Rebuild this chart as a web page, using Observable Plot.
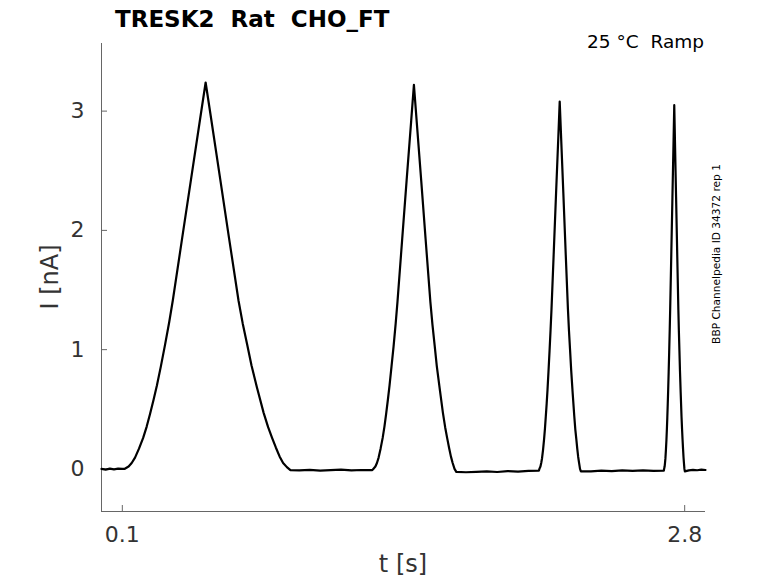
<!DOCTYPE html>
<html>
<head>
<meta charset="utf-8">
<script src="https://cdn.jsdelivr.net/npm/d3@7"></script>
<script src="https://cdn.jsdelivr.net/npm/@observablehq/plot@0.6"></script>
<style>
  html, body { margin: 0; padding: 0; background: #fff; }
  svg text { font-family: "DejaVu Sans", sans-serif; }
</style>
</head>
<body>
<div id="chart"></div>
<script>
// ---- data ----
const titleText = "TRESK2  Rat  CHO_FT";
const conditionText = "25 °C  Ramp";
const sourceText = "BBP Channelpedia ID 34372 rep 1";
const xLabel = "t [s]";
const yLabel = "I [nA]";
const xTicks = [0.1, 2.8];
const yTicks = [0, 1, 2, 3];
const xDomain = [0, 2.9];
const yDomain = [-0.357, 3.567];

// baseline before first ramp
const preTime    = [0, 0.02, 0.04, 0.06, 0.08, 0.1];
const preCurrent = [0.0, -0.006, 0.003, -0.004, 0.002, 0.0];

// ramp 1 (0.1 -> 0.5 -> 0.9 s)
const ramp1Time = [0.11, 0.13, 0.145, 0.161, 0.18, 0.2, 0.217, 0.233, 0.25, 0.266, 0.285, 0.305, 0.325, 0.3425, 0.386, 0.43, 0.474, 0.5,
                   0.527, 0.57, 0.612, 0.658, 0.678, 0.6986, 0.72, 0.7467, 0.7785, 0.8, 0.819, 0.837, 0.855, 0.872, 0.89, 0.907];
const ramp1Current = [0, 0.02, 0.05, 0.095, 0.17, 0.26, 0.355, 0.46, 0.58, 0.70, 0.86, 1.04, 1.23, 1.414, 1.92, 2.43, 2.94, 3.24,
                      2.93, 2.43, 1.94, 1.41, 1.22, 1.05, 0.87, 0.68, 0.47, 0.35, 0.26, 0.18, 0.105, 0.05, 0.015, -0.01];

const gap1Time    = [0.95, 1.0, 1.05, 1.1, 1.15, 1.2, 1.25, 1.3];
const gap1Current = [-0.012, -0.008, -0.014, -0.01, -0.006, -0.012, -0.009, -0.01];

// ramp 2 (1.3 -> 1.5 -> 1.7 s)
const ramp2Time = [1.305, 1.315, 1.3225, 1.3305, 1.34, 1.35, 1.3585, 1.3665, 1.375, 1.383, 1.3925, 1.4025, 1.4125, 1.42125, 1.443, 1.465, 1.487, 1.5,
                   1.5135, 1.535, 1.556, 1.579, 1.589, 1.5993, 1.61, 1.62335, 1.63925, 1.65, 1.6595, 1.6685, 1.6775, 1.686, 1.695, 1.7035];
const ramp2Current = [0, 0.02, 0.05, 0.095, 0.17, 0.26, 0.355, 0.46, 0.58, 0.70, 0.86, 1.03, 1.22, 1.405, 1.91, 2.42, 2.92, 3.22,
                      2.91, 2.42, 1.93, 1.40, 1.21, 1.04, 0.86, 0.68, 0.47, 0.35, 0.26, 0.18, 0.105, 0.05, 0.0, -0.025];

const gap2Time    = [1.75, 1.8, 1.85, 1.9, 1.95, 2.0, 2.05, 2.1];
const gap2Current = [-0.028, -0.024, -0.02, -0.026, -0.018, -0.022, -0.017, -0.015];

// ramp 3 (2.1 -> 2.2 -> 2.3 s)
const ramp3Time = [2.1025, 2.1075, 2.11125, 2.11525, 2.12, 2.125, 2.12925, 2.13325, 2.1375, 2.1415, 2.14625, 2.15125, 2.15625, 2.160625, 2.1715, 2.1825, 2.1935, 2.2,
                   2.20675, 2.2175, 2.228, 2.2395, 2.2445, 2.24965, 2.255, 2.26168, 2.26963, 2.275, 2.27975, 2.28425, 2.28875, 2.293, 2.2975, 2.30175];
const ramp3Current = [0, 0.02, 0.05, 0.09, 0.16, 0.25, 0.34, 0.44, 0.55, 0.665, 0.82, 0.99, 1.17, 1.34, 1.82, 2.31, 2.79, 3.08,
                      2.78, 2.31, 1.84, 1.34, 1.16, 1.0, 0.83, 0.65, 0.45, 0.33, 0.25, 0.17, 0.10, 0.05, 0.0, -0.02];

const gap3Time    = [2.35, 2.4, 2.45, 2.5, 2.55, 2.6, 2.65, 2.7];
const gap3Current = [-0.02, -0.014, -0.018, -0.012, -0.016, -0.013, -0.017, -0.015];

// ramp 4 (2.7 -> 2.75 -> 2.8 s)
const ramp4Time = [2.70125, 2.70375, 2.705625, 2.707625, 2.71, 2.7125, 2.714625, 2.716625, 2.71875, 2.72075, 2.723125, 2.725625, 2.728125, 2.730313, 2.73575, 2.74125, 2.74675, 2.75,
                   2.753375, 2.75875, 2.764, 2.76975, 2.77225, 2.774825, 2.7775, 2.780838, 2.784813, 2.7875, 2.789875, 2.792125, 2.794375, 2.7965, 2.79875, 2.800875];
const ramp4Current = [0, 0.02, 0.05, 0.09, 0.16, 0.245, 0.335, 0.43, 0.545, 0.66, 0.81, 0.98, 1.16, 1.33, 1.80, 2.28, 2.76, 3.05,
                      2.75, 2.28, 1.82, 1.33, 1.15, 0.99, 0.82, 0.64, 0.44, 0.33, 0.245, 0.17, 0.10, 0.05, 0.0, -0.02];

const postTime    = [2.82, 2.84, 2.86, 2.88, 2.9];
const postCurrent = [-0.012, -0.008, -0.011, -0.006, -0.009];

// ---- build table ----
const segments = [
  [preTime, preCurrent], [ramp1Time, ramp1Current], [gap1Time, gap1Current],
  [ramp2Time, ramp2Current], [gap2Time, gap2Current], [ramp3Time, ramp3Current],
  [gap3Time, gap3Current], [ramp4Time, ramp4Current], [postTime, postCurrent]
];
const trace = segments.flatMap(([ts, is]) => ts.map((t, k) => ({t, I: is[k]})));

const W = 778, H = 583;
const mL = 101, mR = 73, mT = 43, mB = 72;
const axisColor = "#666";
const textColor = "#333";

const chart = Plot.plot({
  width: W,
  height: H,
  marginLeft: mL, marginRight: mR, marginTop: mT, marginBottom: mB,
  style: {fontFamily: "DejaVu Sans, sans-serif", background: "white"},
  x: {domain: xDomain},
  y: {domain: yDomain},
  marks: [
    Plot.ruleX([xDomain[0]], {stroke: axisColor, strokeWidth: 1}),
    Plot.ruleY([yDomain[0]], {stroke: axisColor, strokeWidth: 1}),
    Plot.axisX({ticks: xTicks, tickFormat: d => String(d), tickSize: -6, tickPadding: 21,
                fontSize: 22, color: textColor, stroke: axisColor, label: null}),
    Plot.axisY({ticks: yTicks, tickFormat: d => String(d), tickSize: -6, tickPadding: 23,
                fontSize: 22, color: textColor, stroke: axisColor, label: null}),
    Plot.line(trace, {x: "t", y: "I", stroke: "black", strokeWidth: 2.2, strokeLinejoin: "round"})
  ]
});

const svg = d3.select(chart);
svg.append("text")
  .attr("x", 115).attr("y", 26.5).attr("text-anchor", "start")
  .attr("font-size", 23).attr("font-weight", "bold").attr("fill", "black")
  .style("white-space", "pre")
  .text(titleText);
svg.append("text")
  .attr("x", 704).attr("y", 47.5).attr("text-anchor", "end")
  .attr("font-size", 18.5).attr("fill", "black")
  .style("white-space", "pre")
  .text(conditionText);
svg.append("text")
  .attr("transform", "translate(720,254) rotate(-90)")
  .attr("text-anchor", "middle")
  .attr("font-size", 10.6).attr("fill", "black")
  .text(sourceText);
svg.append("text")
  .attr("x", (mL + W - mR) / 2).attr("y", 572)
  .attr("text-anchor", "middle")
  .attr("font-size", 24).attr("fill", textColor)
  .text(xLabel);
svg.append("text")
  .attr("transform", `translate(58,${(mT + H - mB) / 2}) rotate(-90)`)
  .attr("text-anchor", "middle")
  .attr("font-size", 24).attr("fill", textColor)
  .text(yLabel);

document.getElementById("chart").appendChild(chart);
</script>
</body>
</html>
